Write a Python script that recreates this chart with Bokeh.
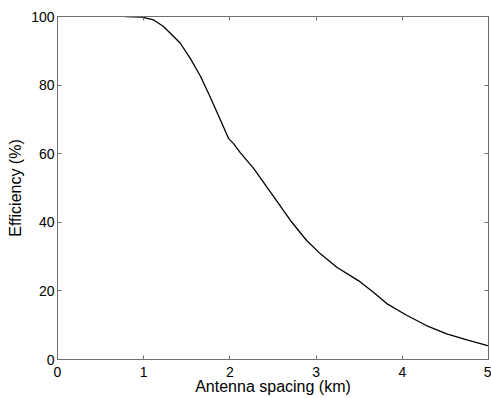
from bokeh.plotting import figure
from bokeh.models import Range1d, LinearAxis, FixedTicker, CustomJSTickFormatter
from bokeh.embed import file_html
from bokeh.resources import INLINE

# Data
spacing_km = [0.79, 0.98, 1.115, 1.23, 1.425, 1.54, 1.66, 1.77, 1.89, 1.985, 2.04,
              2.12, 2.275, 2.51, 2.70, 2.89, 3.05, 3.24, 3.49, 3.665, 3.82, 4.05,
              4.28, 4.515, 4.75, 5.0]
efficiency_pct = [100, 99.8, 99.0, 97.1, 92.2, 87.8, 82.5, 76.6, 69.8, 64.4, 63.0,
                  60.3, 55.7, 47.4, 40.6, 34.7, 30.8, 26.9, 23.0, 19.6, 16.3, 12.9,
                  9.9, 7.5, 5.7, 4.0]
x_ticks = [0, 1, 2, 3, 4, 5]
y_ticks = [0, 20, 40, 60, 80, 100]

FONT = "Liberation Sans"
AXC = "#6e6e6e"

p = figure(width=491, height=398, output_backend="svg", toolbar_location=None,
           x_range=Range1d(0, 5), y_range=Range1d(0, 100),
           min_border_left=57, min_border_right=3, min_border_top=16, min_border_bottom=39,
           background_fill_color="white", border_fill_color="white")
p.grid.visible = False
p.outline_line_color = AXC

p.line(spacing_km, efficiency_pct, line_color="black", line_width=1.3)

xa = p.xaxis[0]
xa.ticker = FixedTicker(ticks=x_ticks)
ya = p.yaxis[0]
ya.ticker = FixedTicker(ticks=y_ticks)
for ax in (xa, ya):
    ax.axis_line_color = AXC
    ax.major_tick_line_color = AXC
    ax.major_tick_in = 4
    ax.major_tick_out = 0
    ax.minor_tick_line_color = None
    ax.major_label_text_font = FONT
    ax.major_label_text_font_size = "14px"
    ax.major_label_text_color = "black"
    ax.axis_label_text_font = FONT
    ax.axis_label_text_font_size = "16px"
    ax.axis_label_text_font_style = "normal"
    ax.axis_label_text_color = "black"
xa.major_label_standoff = 7
xa.axis_label = "Antenna spacing (km)"
xa.axis_label_standoff = -2
ya.major_label_standoff = 3
ya.axis_label = "Efficiency (%)"
ya.axis_label_standoff = 4

blank = CustomJSTickFormatter(code="return ''")
top = LinearAxis(ticker=FixedTicker(ticks=x_ticks), formatter=blank)
right = LinearAxis(ticker=FixedTicker(ticks=y_ticks), formatter=blank)
for ax in (top, right):
    ax.axis_line_color = AXC
    ax.major_tick_line_color = AXC
    ax.major_tick_in = 4
    ax.major_tick_out = 0
    ax.minor_tick_line_color = None
    ax.major_label_text_font_size = "0px"
    ax.major_label_standoff = 0
p.add_layout(top, "above")
p.add_layout(right, "right")

open("out.html", "w").write(file_html(p, INLINE))
